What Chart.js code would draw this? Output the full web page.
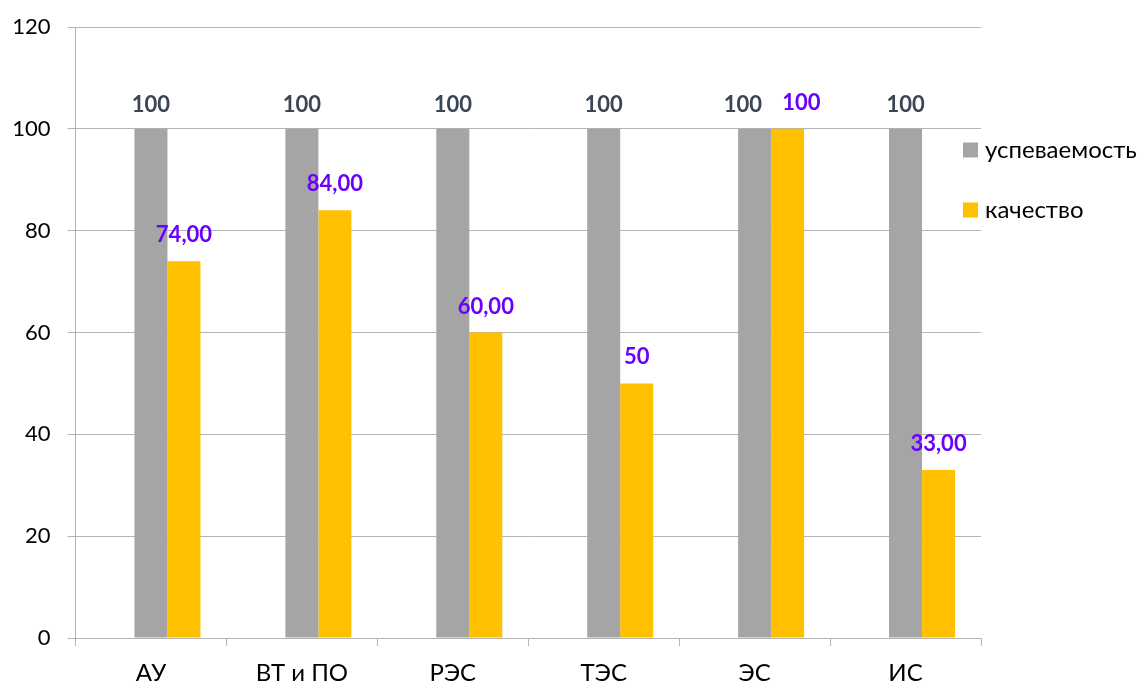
<!DOCTYPE html>
<html>
<head>
<meta charset="utf-8">
<script src="https://cdn.jsdelivr.net/npm/chart.js@4"></script>
<style>
  html, body { margin: 0; padding: 0; background: #fff; }
  #wrap { width: 1141px; height: 682px; }
</style>
</head>
<body>
<div id="wrap"><canvas id="chart"></canvas></div>
<script>
const categories = ["АУ", "ВТ и ПО", "РЭС", "ТЭС", "ЭС", "ИС"];
const progress = [100, 100, 100, 100, 100, 100];
const quality = [74, 84, 60, 50, 100, 33];
const progressLabels = ["100", "100", "100", "100", "100", "100"];
const qualityLabels = ["74,00", "84,00", "60,00", "50", "100", "33,00"];
const yTicks = [0, 20, 40, 60, 80, 100, 120];

const FONT = "Lato, 'Open Sans', sans-serif";
const GRID = "#b4b4b4";

// data labels above bars, pushed apart when two of them collide
const barLabels = {
  id: "barLabels",
  afterDatasetsDraw(chart) {
    const ctx = chart.ctx;
    ctx.save();
    ctx.font = "bold 22px " + FONT;
    ctx.textBaseline = "alphabetic";
    const grayMeta = chart.getDatasetMeta(1);
    const yellowMeta = chart.getDatasetMeta(2);
    categories.forEach((c, i) => {
      const g = grayMeta.data[i], y = yellowMeta.data[i];
      const gt = progressLabels[i], yt = qualityLabels[i];
      const gw = ctx.measureText(gt).width, yw = ctx.measureText(yt).width;
      let gx = g.x - gw / 2, yx = y.x - yw / 2;
      const gy = g.y - 17, yy = y.y - 19;
      if (Math.abs(gy - yy) < 20 && gx + gw > yx) {
        const mid = (g.x + y.x) / 2;
        gx = mid - 9 - gw;
        yx = mid + 11;
      }
      ctx.textAlign = "left";
      ctx.fillStyle = "#3b4556";
      ctx.fillText(gt, gx, gy);
      ctx.fillStyle = "#6a00ff";
      ctx.fillText(yt, yx, yy);
    });
    ctx.restore();
  }
};

// legend drawn to the right, overlapping the plot edge as in the original
const sideLegend = {
  id: "sideLegend",
  afterDraw(chart) {
    const ctx = chart.ctx;
    const area = chart.chartArea;
    ctx.save();
    ctx.font = "24px " + FONT;
    ctx.textBaseline = "middle";
    ctx.textAlign = "left";
    const items = chart.data.datasets.filter(d => d.label);
    items.forEach((d, k) => {
      const cy = area.top + 123 + k * 60;
      ctx.fillStyle = d.backgroundColor;
      ctx.fillRect(area.right - 18, cy - 7.5, 15, 15);
      ctx.fillStyle = "#000";
      ctx.fillText(d.label, area.right + 4, cy);
    });
    ctx.restore();
  }
};

new Chart(document.getElementById("chart"), {
  type: "bar",
  data: {
    labels: categories,
    datasets: [
      { label: "", data: [] },
      { label: "успеваемость", data: progress, backgroundColor: "#a5a5a5" },
      { label: "качество", data: quality, backgroundColor: "#ffc000" }
    ]
  },
  options: {
    responsive: true,
    maintainAspectRatio: false,
    animation: false,
    categoryPercentage: 0.656,
    barPercentage: 1.0,
    layout: { padding: { left: 12, right: 160, top: 27, bottom: 0 } },
    plugins: {
      legend: { display: false },
      tooltip: { enabled: false }
    },
    scales: {
      x: {
        afterFit(axis) { axis.height = 44; },
        grid: {
          offset: true,
          drawOnChartArea: false,
          drawTicks: true,
          tickLength: 8,
          color: GRID
        },
        border: { color: GRID, width: 1 },
        ticks: {
          color: "#000",
          font: { family: FONT, size: 24 },
          padding: 13,
          maxRotation: 0
        }
      },
      y: {
        min: 0,
        max: 120,
        afterFit(axis) { axis.width = 63.5; },
        afterBuildTicks(axis) { axis.ticks = yTicks.map(v => ({ value: v })); },
        grid: { color: GRID, tickLength: 8 },
        border: { color: GRID, width: 1 },
        ticks: {
          color: "#000",
          font: { family: FONT, size: 22, lineHeight: 0.6 },
          padding: 17
        }
      }
    }
  },
  plugins: [barLabels, sideLegend]
});
</script>
</body>
</html>
